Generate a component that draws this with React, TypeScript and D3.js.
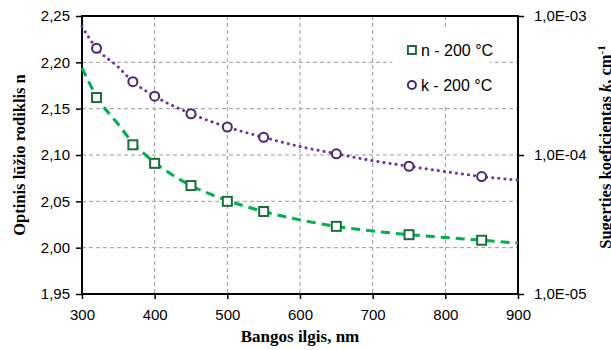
import { useRef, useEffect } from "react";
import * as d3 from "d3";

// measured points (squares = n, circles = k)
const waveNm = [320, 370, 400, 450, 500, 550, 650, 750, 850];
const nValues = [2.162, 2.111, 2.091, 2.067, 2.05, 2.039, 2.023, 2.014, 2.008];
const kValues = [5.86e-4, 3.37e-4, 2.65e-4, 1.98e-4, 1.59e-4, 1.34e-4, 1.02e-4, 8.3e-5, 7.0e-5];

// fitted curves
const fitWave = [300, 320, 350, 370, 400, 450, 500, 550, 600, 650, 700, 750, 800, 850, 900];
const nFit = [2.194, 2.163, 2.133, 2.113, 2.092, 2.067, 2.051, 2.039, 2.03, 2.023, 2.018, 2.014, 2.011, 2.008, 2.005];
const kFit = [8.4e-4, 5.86e-4, 4.29e-4, 3.37e-4, 2.65e-4, 1.98e-4, 1.59e-4, 1.34e-4, 1.15e-4, 1.02e-4, 9.1e-5, 8.3e-5, 7.6e-5, 7.0e-5, 6.6e-5];

const xTicks = [300, 400, 500, 600, 700, 800, 900];
const nTicks = [1.95, 2.0, 2.05, 2.1, 2.15, 2.2, 2.25];
const kTicks = [1e-5, 1e-4, 1e-3];
const kTickLabels = ["1,0E-05", "1,0E-04", "1,0E-03"];

const legendLabels = ["n - 200 °C", "k - 200 °C"];

const W = 611;
const H = 350;
const SANS = "'Liberation Sans', Arial, sans-serif";
const SERIF = "'Liberation Serif', 'Times New Roman', serif";

const colors = {
  nLine: "#00b050",
  nMarker: "#1b6d3a",
  kLine: "#7030a0",
  kMarker: "#4a2678",
  grid: "#9a9a9a",
};

export default function App() {
  const svgRef = useRef<SVGSVGElement>(null);

  useEffect(() => {
    if (!svgRef.current) return;
    const margin = { top: 16, right: 93, bottom: 56, left: 82 };
    const innerW = W - margin.left - margin.right;
    const innerH = H - margin.top - margin.bottom;

    const svg = d3.select(svgRef.current);
    svg.selectAll("*").remove();

    const g = svg
      .append("g")
      .attr("transform", `translate(${margin.left},${margin.top})`);

    const x = d3.scaleLinear().domain([300, 900]).range([0, innerW]);
    const yN = d3.scaleLinear().domain([1.95, 2.25]).range([innerH, 0]);
    const yK = d3.scaleLog().domain([1e-5, 1e-3]).range([innerH, 0]);

    // Grid
    g.append("g")
      .selectAll("line")
      .data(nTicks.slice(1, -1))
      .join("line")
      .attr("x1", 0)
      .attr("x2", innerW)
      .attr("y1", (d) => yN(d))
      .attr("y2", (d) => yN(d))
      .attr("stroke", colors.grid)
      .attr("stroke-dasharray", "4,3");

    g.append("g")
      .selectAll("line")
      .data(xTicks.slice(1, -1))
      .join("line")
      .attr("x1", (d) => x(d))
      .attr("x2", (d) => x(d))
      .attr("y1", 0)
      .attr("y2", innerH)
      .attr("stroke", colors.grid)
      .attr("stroke-dasharray", "4,3");

    // Axes
    const styleAxis = (sel: d3.Selection<SVGGElement, unknown, null, undefined>) => {
      sel.select(".domain").remove();
      sel.selectAll(".tick line").attr("stroke", "#000").attr("stroke-width", 1.5);
      sel
        .selectAll("text")
        .attr("fill", "#000")
        .attr("font-size", 15)
        .attr("font-family", SANS);
    };

    g.append("g")
      .attr("transform", `translate(0,${innerH})`)
      .call(d3.axisBottom(x).tickValues(xTicks).tickSize(5).tickPadding(10).tickFormat((d) => `${d}`))
      .call(styleAxis);

    g.append("g")
      .call(
        d3
          .axisLeft(yN)
          .tickValues(nTicks)
          .tickSize(6)
          .tickPadding(6)
          .tickFormat((d) => d3.format(".2f")(d as number).replace(".", ",")),
      )
      .call(styleAxis);

    g.append("g")
      .attr("transform", `translate(${innerW},0)`)
      .call(
        d3
          .axisRight(yK)
          .tickValues(kTicks)
          .tickSize(6)
          .tickPadding(10)
          .tickFormat((d, i) => kTickLabels[i]),
      )
      .call(styleAxis);

    // Frame
    g.append("rect")
      .attr("width", innerW)
      .attr("height", innerH)
      .attr("fill", "none")
      .attr("stroke", "#000")
      .attr("stroke-width", 2);

    // Legend background
    g.append("rect")
      .attr("x", x(727))
      .attr("y", yN(2.235))
      .attr("width", x(862) - x(727))
      .attr("height", yN(2.153) - yN(2.235))
      .attr("fill", "#fff");

    // Fit lines
    const nLine = d3
      .line<number>()
      .x((_, i) => x(fitWave[i]))
      .y((d) => yN(d))
      .curve(d3.curveMonotoneX);

    g.append("path")
      .datum(nFit)
      .attr("fill", "none")
      .attr("stroke", colors.nLine)
      .attr("stroke-width", 3)
      .attr("stroke-dasharray", "9,6")
      .attr("d", nLine);

    const kLine = d3
      .line<number>()
      .x((_, i) => x(fitWave[i]))
      .y((d) => yK(d))
      .curve(d3.curveMonotoneX);

    g.append("path")
      .datum(kFit)
      .attr("fill", "none")
      .attr("stroke", colors.kLine)
      .attr("stroke-width", 3)
      .attr("stroke-linecap", "round")
      .attr("stroke-dasharray", "0.1,6")
      .attr("d", kLine);

    // Markers
    const sq = 9;
    g.append("g")
      .selectAll("rect")
      .data(nValues)
      .join("rect")
      .attr("x", (_, i) => x(waveNm[i]) - sq / 2)
      .attr("y", (d) => yN(d) - sq / 2)
      .attr("width", sq)
      .attr("height", sq)
      .attr("fill", "#fff")
      .attr("stroke", colors.nMarker)
      .attr("stroke-width", 2);

    g.append("g")
      .selectAll("circle")
      .data(kValues)
      .join("circle")
      .attr("cx", (_, i) => x(waveNm[i]))
      .attr("cy", (d) => yK(d))
      .attr("r", 4.5)
      .attr("fill", "#fff")
      .attr("stroke", colors.kMarker)
      .attr("stroke-width", 2);

    // Legend
    const lx = x(754);
    const rows = [34, 69];
    const lg = g.append("g");
    lg.append("rect")
      .attr("x", lx - 4)
      .attr("y", rows[0] - 4)
      .attr("width", 8)
      .attr("height", 8)
      .attr("fill", "#fff")
      .attr("stroke", colors.nMarker)
      .attr("stroke-width", 2);
    lg.append("circle")
      .attr("cx", lx)
      .attr("cy", rows[1])
      .attr("r", 4)
      .attr("fill", "#fff")
      .attr("stroke", colors.kMarker)
      .attr("stroke-width", 2);
    lg.selectAll("text")
      .data(legendLabels)
      .join("text")
      .attr("x", lx + 9)
      .attr("y", (_, i) => rows[i] + 6)
      .attr("font-size", 16)
      .attr("font-family", SANS)
      .attr("fill", "#000")
      .text((d) => d);

    // Axis titles
    svg
      .append("text")
      .attr("x", margin.left + innerW / 2)
      .attr("y", 342)
      .attr("text-anchor", "middle")
      .attr("font-size", 17)
      .attr("font-weight", "bold")
      .attr("font-family", SERIF)
      .attr("fill", "#000")
      .text("Bangos ilgis, nm");

    svg
      .append("text")
      .attr("transform", `translate(25,${margin.top + innerH / 2}) rotate(-90)`)
      .attr("text-anchor", "middle")
      .attr("font-size", 16.5)
      .attr("font-weight", "bold")
      .attr("font-family", SERIF)
      .attr("fill", "#000")
      .text("Optinis lūžio rodiklis n");

    const rt = svg
      .append("text")
      .attr("transform", `translate(611,${margin.top + innerH / 2 - 8}) rotate(-90)`)
      .attr("text-anchor", "middle")
      .attr("font-size", 16.5)
      .attr("font-weight", "bold")
      .attr("font-family", SERIF)
      .attr("fill", "#000");
    rt.append("tspan").text("Sugerties koeficientas ");
    rt.append("tspan").attr("font-style", "italic").text("k");
    rt.append("tspan").text(", cm");
    rt.append("tspan").attr("font-size", 11).attr("dy", -6).text("-1");
  }, []);

  return (
    <svg
      ref={svgRef}
      width={W}
      height={H}
      style={{ position: "absolute", left: 0, top: 0, background: "#fff" }}
    />
  );
}
